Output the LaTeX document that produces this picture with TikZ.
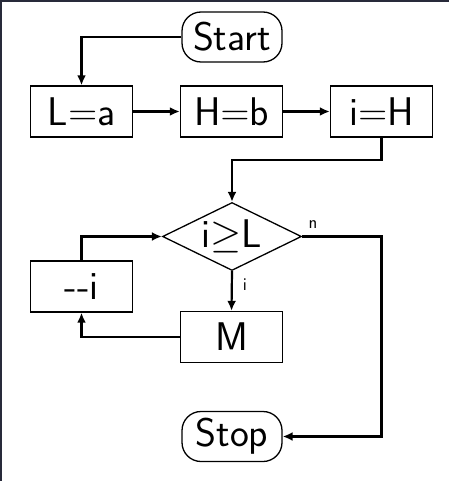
\RequirePackage{fix-cm}
\documentclass[tikz,border=0pt]{standalone}
\usetikzlibrary{shapes.geometric,arrows.meta}
\begin{document}
\begin{tikzpicture}[x=1pt,y=-1pt,
  every node/.style={font=\fontsize{40}{48}\selectfont\sffamily},
  stbox/.style={draw,rounded corners=19pt,minimum width=100pt,minimum height=50pt,inner sep=0pt,line width=1.3pt},
  procbox/.style={draw,minimum width=102pt,minimum height=51pt,inner sep=0pt,line width=1.4pt},
  decbox/.style={draw,diamond,aspect=2.04,minimum width=139pt,minimum height=68pt,inner sep=0pt,line width=1.3pt},
  conn/.style={line width=2.2pt,-{Latex[length=10pt,width=9pt]}},
  lbl/.style={font=\fontsize{18}{20}\selectfont\sffamily,inner sep=0pt}]
\useasboundingbox (0,0) rectangle (449,481);
\fill[white] (0,0) rectangle (449,481);
\draw[line width=2pt,color={rgb,255:red,40;green,42;blue,58}] (1,481) -- (1,1) -- (449,1);
\node[stbox] (start) at (232,37) {Start};
\node[procbox] (la) at (81.5,111.5) {L$=$a};
\node[procbox] (hb) at (231.5,111.5) {H$=$b};
\node[procbox] (ih) at (381.5,111.5) {i$=$H};
\node[decbox] (dec) at (232,236.5) {i$\geq$L};
\node[procbox] (mm) at (231.5,337) {M};
\node[procbox] (di) at (81.5,286.5) {-{}-i};
\node[stbox] (stop) at (232,436.5) {Stop};
\node[lbl] (nl) at (313,225) {n};
\node[lbl] (il) at (245,285) {i};
\coordinate (turn) at (381.5,160);
\draw[conn] (start.west) -| (la.north);
\draw[conn] (la.east) -- (hb.west);
\draw[conn] (hb.east) -- (ih.west);
\draw[conn] (ih.south) -- (turn) -| (dec.north);
\draw[conn] (dec.south) -- (mm.north);
\draw[conn] (dec.east) -| (turn |- stop.east) -- (stop.east);
\draw[conn] (mm.west) -| (di.south);
\draw[conn] (di.north) |- (dec.west);
\end{tikzpicture}
\end{document}
